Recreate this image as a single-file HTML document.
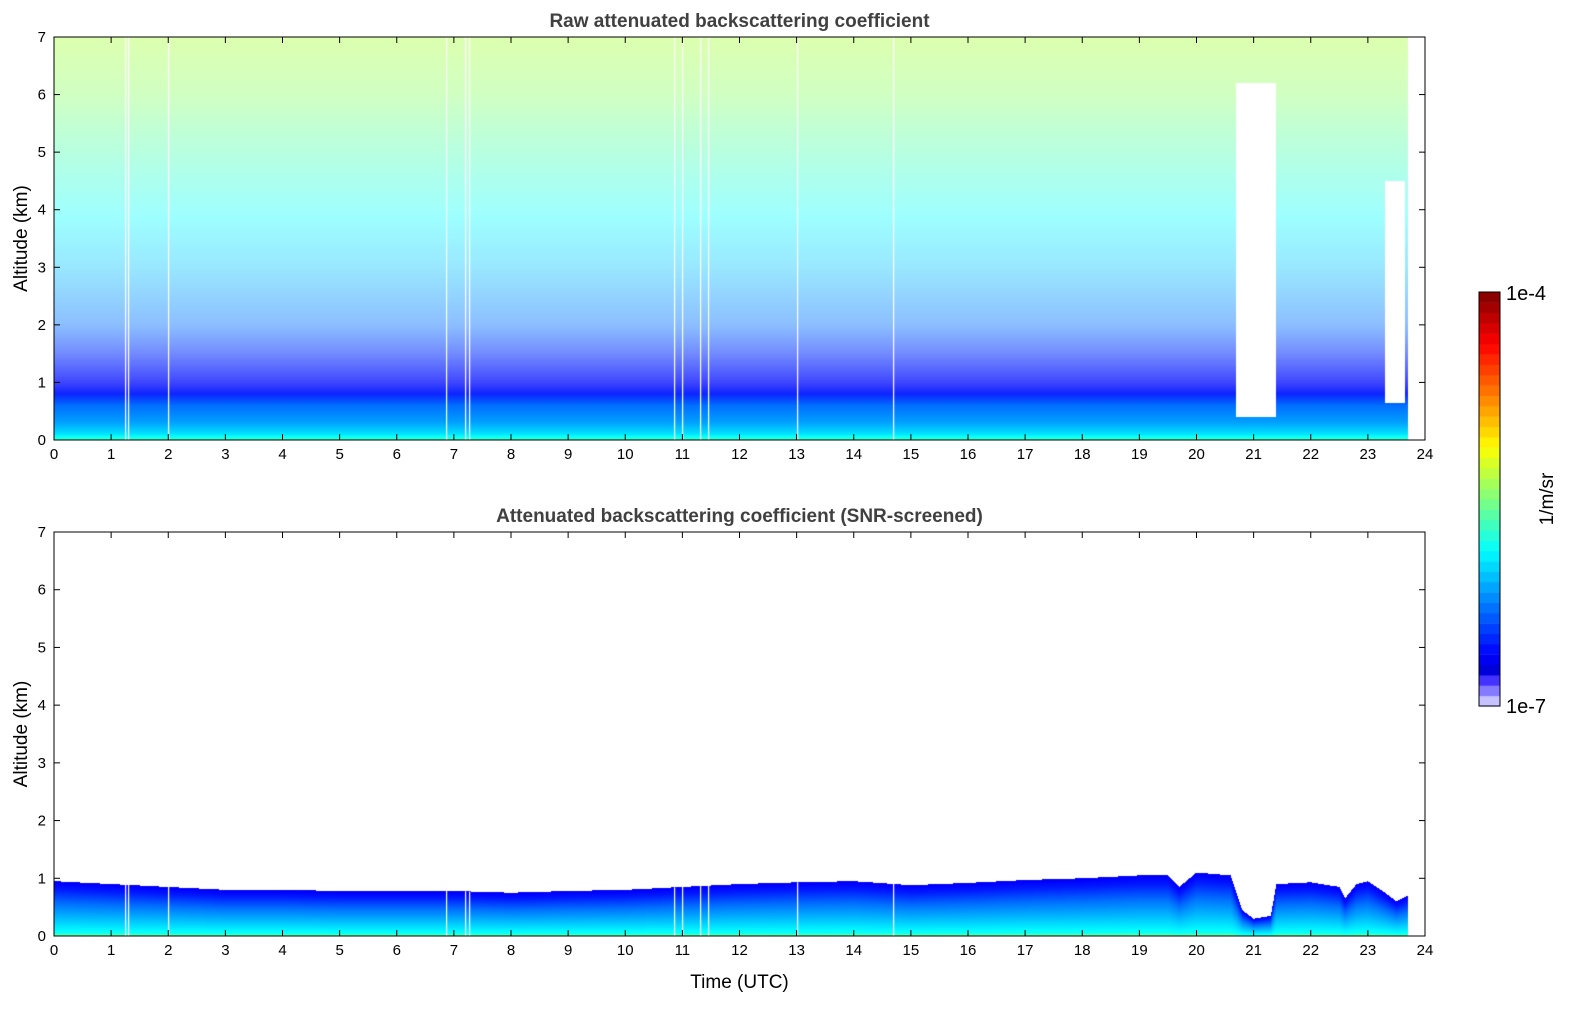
<!DOCTYPE html>
<html><head><meta charset="utf-8">
<style>
body{margin:0;background:#fff;width:1595px;height:1020px;overflow:hidden;font-family:"Liberation Sans","DejaVu Sans",sans-serif;}
#wrap{position:relative;width:1595px;height:1020px;}
canvas{position:absolute;left:0;top:0;}
</style></head>
<body>
<div id="wrap">
<canvas id="c" width="1595" height="1020"></canvas>
<svg id="s" width="1595" height="1020" style="position:absolute;left:0;top:0"></svg>
</div>
<script>
// ---- data ----
const hourTicks = [0,1,2,3,4,5,6,7,8,9,10,11,12,13,14,15,16,17,18,19,20,21,22,23,24];
const altTicks = [0,1,2,3,4,5,6,7];
// raw panel mean altitude profile (log10 beta) and fill fraction of noisy pixels
const profAlt = [0,0.1,0.3,0.6,0.8,1.0,1.5,2,3,4,5,6,7];
const profVal = [-5.7,-5.95,-6.15,-6.3,-6.55,-6.6,-6.5,-6.3,-6.05,-5.85,-5.65,-5.45,-5.35];
const profFill = [1,1,1,1,0.95,0.75,0.55,0.45,0.4,0.38,0.4,0.42,0.45];
// boundary layer top (km) in screened panel
const blTime = [0,1,2,3,4,5,6,7,8,9,10,11,12,13,14,15,16,17,18,19,19.5,19.7,20,20.6,20.8,21,21.3,21.4,22,22.5,22.6,22.8,23,23.3,23.5,23.7];
const blTop  = [0.95,0.9,0.85,0.8,0.8,0.78,0.78,0.78,0.75,0.78,0.8,0.85,0.9,0.93,0.95,0.88,0.92,0.97,1.0,1.05,1.05,0.85,1.1,1.05,0.45,0.3,0.35,0.9,0.93,0.85,0.65,0.9,0.95,0.75,0.6,0.7];
// layer vertical profile as fraction of layer top
const layFrac = [0,0.06,0.3,0.6,0.85,1];
const layVal  = [-5.55,-5.85,-6.05,-6.3,-6.55,-6.65];
// data gaps in raw panel (white) : start h, end h, bottom km, top km
const gapStart=[20.7,23.3];
const gapEnd=[21.4,23.65];
const gapBot=[0.4,0.65];
const gapTop=[6.2,4.5];
const missingTimes=[1.25,1.3,2.0,6.87,7.2,7.27,10.85,11.0,11.3,11.45,13.0,14.68];
const dataEnd=23.7;

// ---- geometry ----
const X0=54,X1=1425;
const P=[{top:37,bot:440,title:"Raw attenuated backscattering coefficient"},
         {top:532,bot:936,title:"Attenuated backscattering coefficient (SNR-screened)"}];
const xs=h=>X0+(X1-X0)*h/24;
const ys=(p,a)=>p.bot-(p.bot-p.top)*a/7;
function interp(xa,ya,x){if(x<=xa[0])return ya[0];for(let i=1;i<xa.length;i++){if(x<=xa[i]){const f=(x-xa[i-1])/(xa[i]-xa[i-1]);return ya[i-1]+f*(ya[i]-ya[i-1]);}}return ya[ya.length-1];}
function cmap(v){let t=(v+7)/3;t=Math.max(0,Math.min(1,t));
 if(t<0.08){const f=t/0.08;return [230-230*f*0.9,230-230*f,255];}
 const c=x=>Math.max(0,Math.min(1,x));
 return [255*c(1.5-Math.abs(4*t-3)),255*c(1.5-Math.abs(4*t-2)),255*c(1.5-Math.abs(4*t-1))];}

const cv=document.getElementById('c');const ctx=cv.getContext('2d');
ctx.fillStyle='#fff';ctx.fillRect(0,0,1595,1020);
function drawPanel(k){
 const p=P[k];const w=X1-X0,h=p.bot-p.top;
 const img=ctx.createImageData(w,h);
 for(let px=0;px<w;px++){
  const t=(px+0.5)/w*24; if(t>dataEnd)continue;
  const bt=interp(blTime,blTop,t);
  for(let py=0;py<h;py++){
   const a=(h-py-0.5)/h*7;let col=null;
   if(k===0){
    let gap=false;for(let g=0;g<gapStart.length;g++){if(t>=gapStart[g]&&t<=gapEnd[g]&&a>=gapBot[g]&&a<=gapTop[g])gap=true;}
    if(gap)continue;
    const v=interp(profAlt,profVal,a),f=interp(profAlt,profFill,a);
    const c=cmap(v);col=c.map(q=>q*f+255*(1-f));
   } else {
    if(a>bt)continue;
    col=cmap(interp(layFrac,layVal,a/bt));
   }
   const i=(py*w+px)*4;img.data[i]=col[0];img.data[i+1]=col[1];img.data[i+2]=col[2];img.data[i+3]=255;
  }
 }
 ctx.putImageData(img,X0,p.top);
 ctx.fillStyle='#fff';
 missingTimes.forEach(m=>{const top=k===0?p.top:ys(p,interp(blTime,blTop,m));ctx.fillRect(Math.round(xs(m)),top,1.2,p.bot-top);});
}
drawPanel(0);drawPanel(1);

// colorbar
const CB={x:1479,w:21,top:292,bot:706};
const nb=40;
for(let i=0;i<nb;i++){const v=-7+3*(i+0.5)/nb;const c=cmap(v);
 ctx.fillStyle=`rgb(${c[0]|0},${c[1]|0},${c[2]|0})`;
 const y0=CB.bot-(i+1)*(CB.bot-CB.top)/nb;ctx.fillRect(CB.x,y0,CB.w,(CB.bot-CB.top)/nb+0.5);}

// ---- axes in svg ----
const S=document.getElementById('s');const NS='http://www.w3.org/2000/svg';
function el(tag,at,txt){const e=document.createElementNS(NS,tag);for(const k in at)e.setAttribute(k,at[k]);if(txt!==undefined)e.textContent=txt;S.appendChild(e);return e;}
P.forEach((p,k)=>{
 const fr=el('rect',{x:X0,y:p.top,width:X1-X0,height:p.bot-p.top,fill:'none',stroke:'#000','stroke-width':1});
 
 const tt=el('text',{x:(X0+X1)/2,y:p.top-10,'text-anchor':'middle','font-size':19,'font-weight':'bold',fill:'#404040'},p.title);
 
 hourTicks.forEach(hh=>{const x=xs(hh);
  el('line',{x1:x,x2:x,y1:p.bot,y2:p.bot-6,stroke:'#000'});el('line',{x1:x,x2:x,y1:p.top,y2:p.top+6,stroke:'#000'});
  const l=el('text',{x:x,y:p.bot+19,'text-anchor':'middle','font-size':15},hh);
  });
 altTicks.forEach(a=>{const y=ys(p,a);
  el('line',{x1:X0,x2:X0+6,y1:y,y2:y,stroke:'#000'});el('line',{x1:X1,x2:X1-6,y1:y,y2:y,stroke:'#000'});
  const l=el('text',{x:X0-8,y:y+5,'text-anchor':'end','font-size':15},a);
  });
 const yt=el('text',{x:0,y:0,'text-anchor':'middle','font-size':19,transform:`translate(27,${(p.top+p.bot)/2}) rotate(-90)`},'Altitude (km)');
 
});
const xt=el('text',{x:(X0+X1)/2,y:988,'text-anchor':'middle','font-size':19},'Time (UTC)');

const cbf=el('rect',{x:CB.x,y:CB.top,width:CB.w,height:CB.bot-CB.top,fill:'none',stroke:'#000'});

const c1=el('text',{x:1506,y:300,'font-size':20},'1e-4');

const c2=el('text',{x:1506,y:713,'font-size':20},'1e-7');

const cu=el('text',{x:0,y:0,'text-anchor':'middle','font-size':19,transform:'translate(1553,499) rotate(-90)'},'1/m/sr');

</script>
</body></html>
